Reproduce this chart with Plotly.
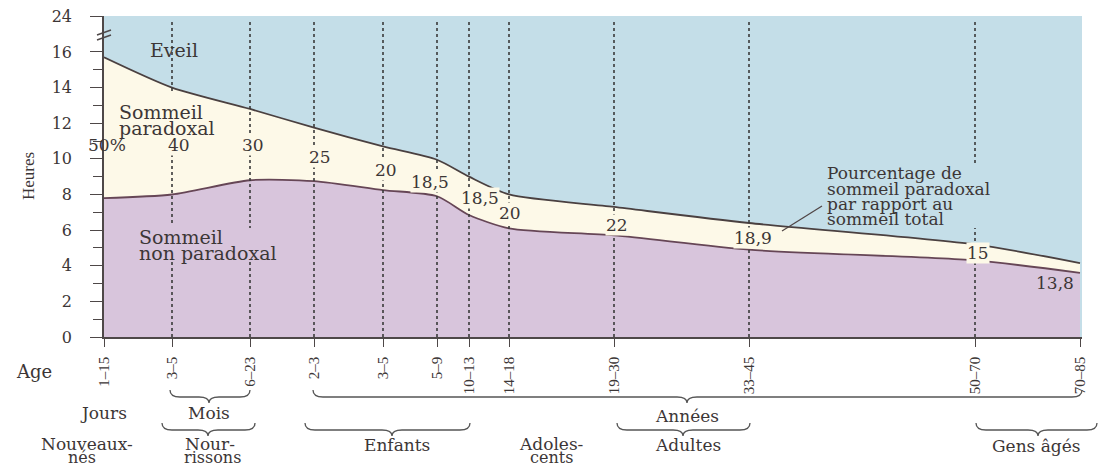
import plotly.graph_objects as go

# ---------------- data ----------------
ages = ['1–15', '3–5', '6–23', '2–3', '3–5', '5–9', '10–13', '14–18',
        '19–30', '33–45', '50–70', '70–85']
age_pos = [0, 68, 146, 210, 279, 333, 365, 405, 510, 645, 871, 976]
total_sleep = [15.7, 14.0, 12.8, 11.75, 10.7, 9.95, 9.0, 8.0, 7.3, 6.4, 5.2, 4.15]
nrem_sleep = [7.8, 8.0, 8.8, 8.75, 8.25, 7.9, 6.85, 6.1, 5.7, 4.9, 4.3, 3.6]
rem_pct = ['50%', '40', '30', '25', '20', '18,5', '18,5', '20', '22', '18,9', '15', '13,8']
y_tickvals = [0, 2, 4, 6, 8, 10, 12, 14, 16, 18]
y_ticktext = ['0', '2', '4', '6', '8', '10', '12', '14', '16', '24']
y_minor = [1, 3, 5, 7, 9, 11, 13, 15]

# ---------------- style ----------------
BLUE = '#c4dee8'
CREAM = '#fdf9e8'
LILAC = '#d8c5dc'
INK = '#3c3636'
AXIS = '#4e4848'
SERIF = 'DejaVu Serif'
TIMES = 'Liberation Serif'

W, H = 1101, 468
PL, PR, PT, PB = 104, 19, 16, 131
PW = W - PL - PR
PH = H - PT - PB
YMAX = 18.02


def fx(px):
    return (px - PL) / PW


def fy(py):
    return (PT + PH - py) / PH


fig = go.Figure()
fig.add_trace(go.Scatter(
    x=age_pos, y=total_sleep, mode='lines', fill='tozeroy', fillcolor=CREAM,
    line=dict(color='#4a4040', width=1.8, shape='spline', smoothing=0.7),
    hoverinfo='skip', showlegend=False))
fig.add_trace(go.Scatter(
    x=age_pos, y=nrem_sleep, mode='lines', fill='tozeroy', fillcolor=LILAC,
    line=dict(color='#664656', width=1.8, shape='spline', smoothing=0.7),
    hoverinfo='skip', showlegend=False))

shapes = []
# dashed vertical guide lines
for p in age_pos[1:-1]:
    shapes.append(dict(type='line', xref='x', yref='paper', x0=p, x1=p,
                       y0=0, y1=fy(19),
                       line=dict(color='#3a3a3a', width=1.6, dash='3px,3px')))


def mask(x0, x1, y0, y1, color):
    shapes.append(dict(type='rect', xref='paper', yref='paper',
                       x0=fx(x0), x1=fx(x1), y0=fy(y1), y1=fy(y0),
                       fillcolor=color, line=dict(width=0)))


# gaps in the guide lines where text sits
mask(164, 182, 92, 136, CREAM)
mask(164, 182, 226, 262, LILAC)
mask(242, 258, 228, 262, LILAC)
mask(966, 986, 163, 228, BLUE)

# axis break marks
for dy in (0, 5):
    shapes.append(dict(type='line', xref='paper', yref='paper',
                       x0=fx(97), x1=fx(111), y0=fy(35 + dy), y1=fy(30 + dy),
                       line=dict(color=AXIS, width=1.4)))

# leader line for the percentage note
shapes.append(dict(type='line', xref='paper', yref='paper',
                   x0=fx(822), y0=fy(206), x1=fx(782), y1=fy(231),
                   line=dict(color='#4f4444', width=1.2)))


def brace(x1, x2, tip, y_end, y_line, y_tip):
    r = 10
    X1, X2, T = fx(x1), fx(x2), fx(tip)
    R = r / PW
    Ye, Yl, Yt = fy(y_end), fy(y_line), fy(y_tip)
    path = (f'M {X1},{Ye} Q {X1},{Yl} {X1 + R},{Yl} L {T - R},{Yl} '
            f'Q {T},{Yl} {T},{Yt} Q {T},{Yl} {T + R},{Yl} '
            f'L {X2 - R},{Yl} Q {X2},{Yl} {X2},{Ye}')
    return dict(type='path', xref='paper', yref='paper', path=path,
                line=dict(color='#555', width=1.3))


for b in [(170, 250, 209), (313, 1082, 687)]:
    shapes.append(brace(*b, 390, 397, 403))
for b in [(162, 255, 208), (305, 470, 392), (617, 750, 683), (976, 1097, 1038)]:
    shapes.append(brace(*b, 423, 430, 436))

annotations = []
# percentage labels (data-anchored)
pct_style = [(3, -17, None), (7, -4, CREAM), (3, 0, CREAM), (6, -3, CREAM),
             (3, -2, CREAM), (-7, -4, CREAM), (11, -2, CREAM), (1, -2, CREAM),
             (3, -4, CREAM), (4, -2, CREAM), (3, -1, CREAM), (-25, -15, None)]
for i, lab in enumerate(rem_pct):
    dx, dy, bg = pct_style[i]
    annotations.append(dict(
        x=age_pos[i], y=(total_sleep[i] + nrem_sleep[i]) / 2, xref='x', yref='y',
        text=lab, showarrow=False, xshift=dx, yshift=dy,
        font=dict(family=SERIF, size=17, color=INK),
        bgcolor=bg if bg else 'rgba(0,0,0,0)', borderpad=0))


def label(text, px, py, size=18, anchor='center', family=SERIF,
          angle=0, yanchor='middle'):
    annotations.append(dict(
        x=fx(px), y=fy(py), xref='paper', yref='paper', text=text,
        showarrow=False, xanchor=anchor, yanchor=yanchor, textangle=angle,
        font=dict(family=family, size=size, color=INK)))


label('Eveil', 174, 50, size=19)
label('Sommeil', 117, 112, size=19, anchor='left')
label('paradoxal', 117, 128, size=19, anchor='left')
label('Sommeil', 137, 237, size=19, anchor='left')
label('non paradoxal', 137, 253, size=19, anchor='left')
for t, py in [('Pourcentage de', 173), ('sommeil paradoxal', 189),
              ('par rapport au', 204), ('sommeil total', 219)]:
    label(t, 825, py, size=17, anchor='left')
label('Heures', 28, 176, size=17, family=TIMES, angle=-90)
label('Age', 34, 372)
label('Jours', 103, 413, size=17)
label('Mois', 209, 413, size=17)
label('Années', 687, 416, size=17)
label('Nouveaux-', 87, 444, size=17)
label('nés', 82, 457.5, size=16)
label('Nour-', 210, 444, size=17)
label('rissons', 212, 457.5, size=16)
label('Enfants', 397, 445, size=17)
label('Adoles-', 551, 444, size=17)
label('cents', 551, 457.5, size=16)
label('Adultes', 688, 445, size=17)
label('Gens âgés', 1036, 446, size=17)

fig.update_layout(
    width=W, height=H,
    margin=dict(l=PL, r=PR, t=PT, b=PB, autoexpand=False),
    paper_bgcolor='white', plot_bgcolor=BLUE,
    shapes=shapes, annotations=annotations,
    xaxis=dict(range=[0, PW], tickmode='array', tickvals=age_pos, ticktext=ages,
               tickangle=-90, ticks='outside', ticklen=8, tickwidth=1.4,
               tickcolor=AXIS, showline=True, linecolor=AXIS, linewidth=1.6,
               showgrid=False, zeroline=False, ticklabelstandoff=4,
               automargin=False,
               tickfont=dict(family=TIMES, size=15, color=INK)),
    yaxis=dict(range=[0, YMAX], tickmode='array', tickvals=y_tickvals,
               ticktext=y_ticktext, ticks='outside', ticklen=12, tickwidth=1.4,
               tickcolor=AXIS, showline=True, linecolor=AXIS, linewidth=1.6,
               showgrid=False, zeroline=False, ticklabelstandoff=15,
               automargin=False,
               tickfont=dict(family=SERIF, size=16, color=INK),
               minor=dict(tickmode='array', tickvals=y_minor, ticks='outside',
                          ticklen=9, tickwidth=1.2, tickcolor=AXIS, showgrid=False)),
)

fig.write_html('out.html', config={'displayModeBar': False},
               post_script="document.body.style.margin='0';"
                           "document.body.style.overflow='hidden';")
